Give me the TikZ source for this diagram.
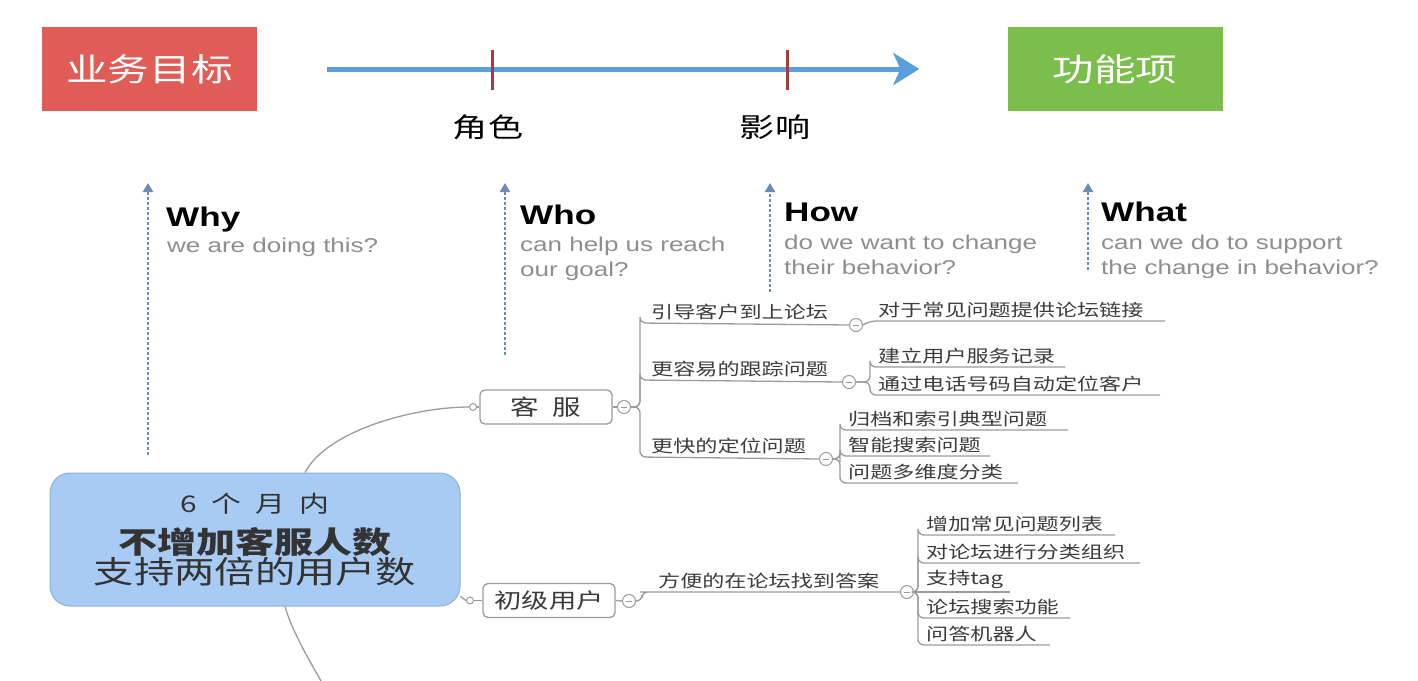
\documentclass[tikz,border=0pt]{standalone}
\usepackage{fontspec}
\setmainfont{Liberation Sans}[FakeStretch=1.3]
\newfontfamily\cjk{Noto Sans CJK SC}[FakeStretch=1.3]
\usetikzlibrary{arrows.meta}
\definecolor{redc}{HTML}{E05C56}
\definecolor{greenc}{HTML}{7CBE4B}
\definecolor{arrowc}{HTML}{5C9DDB}
\definecolor{tickc}{HTML}{A43C3C}
\definecolor{qc}{HTML}{6C8CB6}
\definecolor{subc}{HTML}{8E8E8E}
\definecolor{rootfill}{HTML}{A8CBF4}
\definecolor{rootdraw}{HTML}{8EB1DB}
\definecolor{mmc}{HTML}{9C9C9C}
\definecolor{mmtext}{HTML}{3C3C3C}
\begin{document}
\begin{tikzpicture}[x=1pt,y=-1pt,
  hbox/.style={minimum width=215pt, minimum height=84pt, inner sep=0, text=white, font=\cjk\fontsize{32}{36}\selectfont},
  mainarrow/.style={draw=arrowc, line width=5pt, -{Stealth[length=26pt,width=32pt,inset=7pt]}},
  tickmark/.style={fill=tickc, minimum width=3pt, minimum height=40pt, inner sep=0},
  toplabel/.style={font=\cjk\fontsize{27}{30}\selectfont, text=black, inner sep=0},
  qarrow/.style={draw=qc, line width=2.5pt, dash pattern=on 3pt off 2pt, -{Triangle[length=9pt,width=10pt]}},
  qhead/.style={anchor=base west, inner sep=0, font=\bfseries\fontsize{27}{30}\selectfont, text=black},
  qsub/.style={anchor=base west, inner sep=0, font=\fontsize{20}{25}\selectfont, text=subc},
  rootbox/.style={minimum width=410pt, minimum height=133pt, rounded corners=20pt, fill=rootfill, draw=rootdraw, line width=1pt, align=center, text=black!80, font=\cjk\fontsize{30}{34}\selectfont},
  mmnode/.style={minimum width=132pt, minimum height=34pt, rounded corners=5pt, draw=mmc, line width=1.3pt, fill=white, text=mmtext, inner sep=0},
  dot/.style={circle, draw=mmc, fill=white, line width=1pt, minimum size=7pt, inner sep=0},
  minus/.style={circle, draw=mmc, fill=white, line width=1pt, minimum size=13pt, inner sep=0,
    path picture={\draw[mmc, line width=1pt] ([xshift=-3pt]path picture bounding box.center) -- ([xshift=3pt]path picture bounding box.center);}},
  branch/.style={anchor=south west, inner xsep=11pt, inner ysep=3pt, text=mmtext, font=\cjk\fontsize{17}{20}\selectfont},
  leaf/.style={anchor=south west, inner xsep=8pt, inner ysep=3pt, text=mmtext, font=\cjk\fontsize{17}{20}\selectfont},
  mmline/.style={draw=mmc, line width=1.3pt, rounded corners=6pt},
  curveline/.style={draw=mmc, line width=1.3pt}
]
\useasboundingbox[fill=white] (0,0) rectangle (1418,680);

% top bar
\node[hbox, fill=redc] (goal) at (149.5,69) {业务目标};
\node[hbox, fill=greenc] (feat) at (1115,69) {功能项};
\draw[mainarrow] ([xshift=70pt]goal.east) -- ([xshift=-88pt]feat.west);
\node[tickmark] (t1) at (492,70) {};
\node[tickmark] (t2) at (787,70) {};
\node[toplabel] (l1) at (488,127) {角色};
\node[toplabel] (l2) at (775,127) {影响};

% question arrows
\coordinate (wy0) at (148,455); \coordinate (wy1) at (148,183);
\coordinate (wo0) at (505,355); \coordinate (wo1) at (505,183);
\coordinate (hw0) at (770,292); \coordinate (hw1) at (770,183);
\coordinate (wt0) at (1088,270); \coordinate (wt1) at (1088,183);
\draw[qarrow] (wy0) -- (wy1);
\draw[qarrow] (wo0) -- (wo1);
\draw[qarrow] (hw0) -- (hw1);
\draw[qarrow] (wt0) -- (wt1);

\node[qhead] (why) at (166,226) {Why};
\node[qsub] (why1) at (167,252) {we are doing this?};
\node[qhead] (who) at (520,224) {Who};
\node[qsub] (who1) at (520,251) {can help us reach};
\node[qsub] (who2) at (520,276) {our goal?};
\node[qhead] (how) at (784,221) {How};
\node[qsub] (how1) at (784,249) {do we want to change};
\node[qsub] (how2) at (784,274) {their behavior?};
\node[qhead] (what) at (1101,221) {What};
\node[qsub] (what1) at (1101,249) {can we do to support};
\node[qsub] (what2) at (1101,274) {the change in behavior?};

% root
\node[rootbox] (root) at (255,539.5) {%
  {\fontsize{23}{34}\selectfont 6\hspace{14pt}个\hspace{14pt}月\hspace{14pt}内}\\[7pt]
  {\bfseries 不增加客服人数}\\[-4pt]
  {\fontsize{31}{34}\selectfont 支持两倍的用户数}};

% 客服
\node[mmnode, font=\cjk\fontsize{22}{24}\selectfont] (kf) at (546,407) {客\hspace{14pt}服};
\node[dot] (kfdot) at (473,407) {};
\node[minus] (kfm) at (624,407) {};
\draw[curveline] (kfdot) -- (kf.west);
\draw[curveline] (kf.east) -- (kfm.west);
\draw[curveline] ([xshift=50pt]root.north) .. controls +(22,-42) and +(-55,0) .. (kfdot.west);

\node[branch] (b1) at (640,323) {引导客户到上论坛};
\node[branch] (b2) at (640,380) {更容易的跟踪问题};
\node[branch] (b3) at (640,457) {更快的定位问题};
\node[minus] (b1m) at (856,325) {};
\node[minus] (b2m) at (849,382) {};
\node[minus] (b3m) at (826,459) {};
\draw[mmline] (kfm.east) -- ++(9,0) |- (b1.south west) -- (b1m.west);
\draw[mmline] (kfm.east) -- ++(9,0) |- (b2.south west) -- (b2m.west);
\draw[mmline] (kfm.east) -- ++(9,0) |- (b3.south west) -- (b3m.west);

\node[leaf] (l11) at (870,321) {对于常见问题提供论坛链接};
\draw[mmline] (b1m.east) -- (l11.south west) -- ++(295,0);

\node[leaf] (l21) at (870,367) {建立用户服务记录};
\node[leaf] (l22) at (870,395) {通过电话号码自动定位客户};
\draw[mmline] (b2m.east) -- ++(14,0) |- (l21.south west) -- ++(195,0);
\draw[mmline] (b2m.east) -- ++(14,0) |- (l22.south west) -- ++(290,0);

\node[leaf] (l31) at (840,430) {归档和索引典型问题};
\node[leaf] (l32) at (840,456) {智能搜索问题};
\node[leaf] (l33) at (840,483) {问题多维度分类};
\draw[mmline] (b3m.east) -- ++(7,0) |- (l31.south west) -- ++(228,0);
\draw[mmline] (b3m.east) -- ++(7,0) |- (l32.south west) -- ++(150,0);
\draw[mmline] (b3m.east) -- ++(7,0) |- (l33.south west) -- ++(178,0);

% 初级用户
\node[mmnode, font=\cjk\fontsize{21}{24}\selectfont] (cj) at (549,600.5) {初级用户};
\node[dot] (cjdot) at (470,600.5) {};
\node[minus] (cjm) at (629,601) {};
\draw[curveline] (cjdot) -- (cj.west);
\draw[curveline] (cj.east) -- (cjm.west);
\draw[curveline] ([yshift=-57pt]root.east) -- (cjdot.west);
\coordinate (offb) at (326,690);
\draw[curveline] ([xshift=30pt]root.south) .. controls +(8,28) and +(-12,-22) .. (offb);

\node[branch, inner xsep=12pt] (b4) at (646,592) {方便的在论坛找到答案};
\node[minus] (b4m) at (907,592) {};
\draw[mmline] (cjm.east) -- ++(6,0) |- (b4.south west) -- (b4m.west);

\node[leaf] (l41) at (918,535) {增加常见问题列表};
\node[leaf] (l42) at (918,563) {对论坛进行分类组织};
\node[leaf] (l43) at (918,592) {支持tag};
\node[leaf] (l44) at (918,618) {论坛搜索功能};
\node[leaf] (l45) at (918,645) {问答机器人};
\draw[mmline] (b4m.east) -- ++(4,0) |- (l41.south west) -- ++(197,0);
\draw[mmline] (b4m.east) -- ++(4,0) |- (l42.south west) -- ++(222,0);
\draw[mmline] (b4m.east) -- (l43.south west) -- ++(92,0);
\draw[mmline] (b4m.east) -- ++(4,0) |- (l44.south west) -- ++(152,0);
\draw[mmline] (b4m.east) -- ++(4,0) |- (l45.south west) -- ++(132,0);
\end{tikzpicture}
\end{document}
